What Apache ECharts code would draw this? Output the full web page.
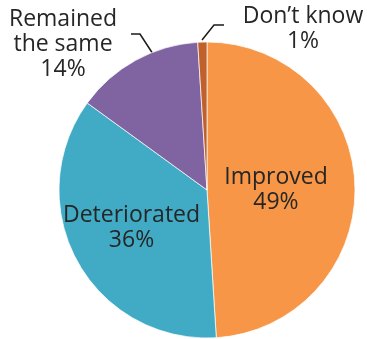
<!DOCTYPE html>
<html>
<head>
<meta charset="utf-8">
<script src="https://cdn.jsdelivr.net/npm/echarts@6/dist/echarts.min.js"></script>
<style>
  html, body { margin: 0; padding: 0; background: #fff; }
  #chart { width: 367px; height: 339px; }
</style>
</head>
<body>
<div id="chart"></div>
<script>
// Survey answers, share of respondents (%)
var categories = ['Improved', 'Deteriorated', 'Remained\nthe same', 'Don\u2019t know'];
var shares = [49, 36, 14, 1];
var sliceColors = ['#F79646', '#41ABC6', '#8064A2', '#C0602A'];

var chart = echarts.init(document.getElementById('chart'), null, { renderer: 'canvas' });

// Outside labels for the two small slices, placed beside the pie with a bent leader
var outsidePlacement = {
  2: { x: 63, y: 44, line: [[153, 54], [140, 34], [131, 34]] },
  3: { x: 303, y: 29, line: [[202, 40], [214, 25], [224, 25]] }
};
// Inside labels sit a little nearer the centre than the default ring midpoint
var insideShift = { 0: [-8, 2], 1: [-8, 1] };

chart.setOption({
  animation: false,
  series: [{
    type: 'pie',
    center: [207, 190],
    radius: 148,
    startAngle: 90,
    clockwise: true,
    data: categories.map(function (name, i) {
      var item = {
        name: name,
        value: shares[i],
        itemStyle: { color: sliceColors[i] }
      };
      if (i >= 2) {
        item.label = { position: 'outside', overflow: 'none', width: 200, alignTo: 'none' };
        item.labelLine = { show: true };
      }
      return item;
    }),
    itemStyle: { borderColor: 'rgba(255,255,255,0.7)', borderWidth: 1 },
    label: {
      show: true,
      position: 'inside',
      formatter: function (p) { return p.name + '\n' + p.value + '%'; },
      fontFamily: 'Open Sans',
      fontSize: 23,
      lineHeight: 25,
      color: '#262626',
      align: 'center'
    },
    labelLine: {
      show: false,
      lineStyle: { color: '#1a1a1a', width: 1.5 }
    },
    labelLayout: function (params) {
      var p = outsidePlacement[params.dataIndex];
      if (p) {
        return {
          x: p.x,
          y: p.y,
          align: 'center',
          verticalAlign: 'middle',
          labelLinePoints: p.line
        };
      }
      var s = insideShift[params.dataIndex];
      return s ? { dx: s[0], dy: s[1] } : {};
    }
  }]
});
</script>
</body>
</html>
